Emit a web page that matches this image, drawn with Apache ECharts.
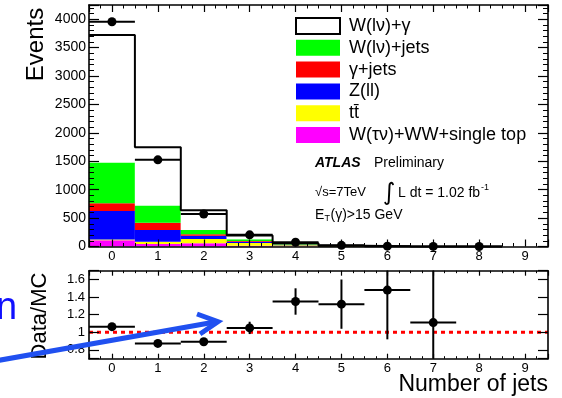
<!DOCTYPE html>
<html>
<head>
<meta charset="utf-8">
<script src="https://cdn.jsdelivr.net/npm/echarts@6/dist/echarts.min.js"></script>
<style>
  html, body { margin: 0; padding: 0; background: #fff; }
  #chart { width: 562px; height: 398px; }
</style>
</head>
<body>
<div id="chart"></div>
<script>
// Jet multiplicity bins
const categories = ['0', '1', '2', '3', '4', '5', '6', '7', '8', '9'];

// Stacked MC expectations per bin (events), bottom of stack first
const wTauWWTop = [110, 45, 55, 15, 5, 2, 0.8, 0.4, 0.2, 0.1];
const ttbar     = [15, 40, 75, 45, 18, 5, 1.5, 0.6, 0.3, 0.1];
const zll       = [500, 205, 60, 25, 6, 1.5, 0.4, 0.1, 0.05, 0];
const gammaJets = [135, 128, 25, 12, 4, 1, 0.3, 0.1, 0, 0];
const wJets     = [720, 302, 75, 30, 10, 2.5, 0.8, 0.3, 0.1, 0];
const wGamma    = [2240, 1025, 350, 68, 12, 3, 0.5, 0.3, 0.15, 0];

// Observed data (events) per bin
const dataCounts = [3955, 1525, 572, 205, 75, 20, 6, 2, 0];

// Data / MC ratio and its uncertainty
const ratioValues = [1.064, 0.874, 0.893, 1.05, 1.35, 1.32, 1.48, 1.11];
const ratioErrors = [0.02, 0.02, 0.03, 0.07, 0.15, 0.28, 0.56, 0.9];

// Axis tick labels
const yTickStep = 500;
const ratioTickStep = 0.2;

const FONT = 'Liberation Sans, Arial, Helvetica, sans-serif';

const stackDefs = [
  { name: 'W(τν)+WW+single top', values: wTauWWTop, color: '#ff00ff' },
  { name: 'tt̄',                  values: ttbar,     color: '#ffff00' },
  { name: 'Z(ll)',               values: zll,       color: '#0000ff' },
  { name: 'γ+jets',              values: gammaJets, color: '#ff0000' },
  { name: 'W(lν)+jets',          values: wJets,     color: '#00ff00' },
  { name: 'W(lν)+γ',             values: wGamma,    color: '#ffffff' }
];

// Total MC per bin and its step outline
const totals = categories.map((_, i) => stackDefs.reduce((s, d) => s + d.values[i], 0));
const outline = [];
let lastBin = -1;
totals.forEach((t, i) => {
  if (wGamma[i] > 0) {
    outline.push([i - 0.5, t], [i + 0.5, t]);
    lastBin = i;
  }
});
outline.push([lastBin + 0.5, 0]);

const chart = echarts.init(document.getElementById('chart'), null, { renderer: 'canvas' });

const axisLine = { show: true, onZero: false, lineStyle: { color: '#000', width: 1.6 } };

function xValueAxis(gridIndex, position, showLabels, tickLen, minorLen, labelSize) {
  return {
    type: 'value', gridIndex, position, min: -0.5, max: 9.5, splitNumber: 10,
    z: 10,
    axisLine,
    axisTick: { show: true, inside: true, length: tickLen, lineStyle: { color: '#000', width: 1.2 } },
    minorTick: { show: minorLen > 0, splitNumber: 4, length: minorLen, lineStyle: { color: '#000', width: 1 } },
    splitLine: { show: false },
    axisLabel: {
      show: showLabels, margin: 3, color: '#000', fontSize: labelSize, fontFamily: FONT,
      formatter: v => (Math.abs(v - Math.round(v)) < 1e-6 ? String(Math.round(v)) : '')
    }
  };
}

function eventsAxis(position, showLabels) {
  return {
    type: 'value', gridIndex: 0, position, min: 0, max: 4250, interval: yTickStep,
    z: 10,
    axisLine,
    axisTick: { show: true, inside: true, length: 10, lineStyle: { color: '#000', width: 1.2 } },
    minorTick: { show: true, splitNumber: 5, length: 5, lineStyle: { color: '#000', width: 1 } },
    splitLine: { show: false },
    axisLabel: {
      show: showLabels, margin: 3, color: '#000', fontSize: 14, fontFamily: FONT,
      formatter: v => (v % yTickStep === 0 ? String(v) : '')
    }
  };
}

function ratioAxis(position, showLabels) {
  return {
    type: 'value', gridIndex: 1, position, min: 0.7, max: 1.7, splitNumber: 5,
    z: 10,
    axisLine,
    axisTick: { show: true, inside: true, length: 10, lineStyle: { color: '#000', width: 1.2 } },
    splitLine: { show: false },
    axisLabel: {
      show: showLabels, margin: 4, color: '#000', fontSize: 13, fontFamily: FONT,
      formatter: v => {
        const k = v / ratioTickStep;
        return Math.abs(k - Math.round(k)) < 1e-6 ? String(+v.toFixed(2)) : '';
      }
    }
  };
}

// Data marker: full-bin horizontal bar plus dot, optional vertical error
function markerRenderer(errors) {
  return function (params, api) {
    const i = params.dataIndex;
    const x = api.value(0), y = api.value(1);
    const cs = params.coordSys;
    const l = api.coord([x - 0.5, y]);
    const r = api.coord([x + 0.5, y]);
    const c = api.coord([x, y]);
    const children = [];
    if (errors) {
      const e = errors[i];
      const hi = api.coord([x, y + e]);
      const lo = api.coord([x, y - e]);
      const y1 = Math.max(hi[1], cs.y);
      const y2 = Math.min(lo[1], cs.y + cs.height);
      children.push({ type: 'line', shape: { x1: c[0], y1, x2: c[0], y2 }, style: { stroke: '#000', lineWidth: 2 } });
    }
    children.push({ type: 'line', shape: { x1: l[0], y1: l[1], x2: r[0], y2: r[1] }, style: { stroke: '#000', lineWidth: 2 } });
    children.push({ type: 'circle', shape: { cx: c[0], cy: c[1], r: 4.5 }, style: { fill: '#000' } });
    return { type: 'group', children };
  };
}

const barSeries = stackDefs.map(d => ({
  name: d.name,
  type: 'bar',
  xAxisIndex: 0,
  yAxisIndex: 0,
  stack: 'mc',
  barWidth: '100%',
  barCategoryGap: '0%',
  itemStyle: { color: d.color },
  emphasis: { disabled: true },
  data: d.values,
  z: 2
}));

const option = {
  animation: false,
  backgroundColor: '#fff',
  grid: [
    { left: 89, top: 5, width: 459, height: 241.5 },
    { left: 89, top: 270.7, width: 459, height: 88 }
  ],
  legend: {
    orient: 'vertical',
    left: 295,
    top: 17,
    padding: 0,
    itemWidth: 44,
    itemHeight: 16,
    itemGap: 3.8,
    icon: 'rect',
    selectedMode: false,
    textStyle: { fontSize: 18, fontFamily: FONT, color: '#000', lineHeight: 16, padding: [0, 0, 0, 4] },
    data: [
      { name: 'W(lν)+γ', itemStyle: { color: '#fff', borderColor: '#000', borderWidth: 2 } },
      'W(lν)+jets', 'γ+jets', 'Z(ll)', 'tt̄', 'W(τν)+WW+single top'
    ]
  },
  xAxis: [
    { type: 'category', gridIndex: 0, data: categories, show: false, boundaryGap: true },
    xValueAxis(0, 'bottom', true, 7, 3.5, 13),
    xValueAxis(0, 'top', false, 7, 3.5, 13),
    xValueAxis(1, 'bottom', true, 5, 2.5, 13),
    xValueAxis(1, 'top', false, 5, 2.5, 13)
  ],
  yAxis: [
    eventsAxis('left', true),
    eventsAxis('right', false),
    ratioAxis('left', true),
    ratioAxis('right', false)
  ],
  series: [
    ...barSeries,
    {
      name: 'MC total',
      type: 'line',
      xAxisIndex: 1,
      yAxisIndex: 0,
      data: outline,
      symbol: 'none',
      lineStyle: { color: '#000', width: 2 },
      z: 4
    },
    {
      name: 'Data',
      type: 'custom',
      xAxisIndex: 1,
      yAxisIndex: 0,
      data: dataCounts.map((v, i) => [i, v]),
      renderItem: markerRenderer(null),
      z: 6
    },
    {
      name: 'Unity',
      type: 'line',
      xAxisIndex: 3,
      yAxisIndex: 2,
      data: [[-0.5, 1], [9.5, 1]],
      symbol: 'none',
      lineStyle: { color: '#ff0000', width: 3, type: [4, 4] },
      z: 3
    },
    {
      name: 'Data/MC',
      type: 'custom',
      xAxisIndex: 3,
      yAxisIndex: 2,
      data: ratioValues.map((v, i) => [i, v]),
      renderItem: markerRenderer(ratioErrors),
      z: 6
    }
  ],
  graphic: [
    { type: 'text', x: 36, y: 44.5, rotation: Math.PI / 2,
      style: { text: 'Events', fontSize: 24, fontFamily: FONT, fill: '#000', align: 'center', verticalAlign: 'middle' } },
    { type: 'text', x: 40, y: 316, rotation: Math.PI / 2,
      style: { text: 'Data/MC', fontSize: 22, fontFamily: FONT, fill: '#000', align: 'center', verticalAlign: 'middle' } },
    { type: 'text', x: 548, y: 385,
      style: { text: 'Number of jets', fontSize: 23, fontFamily: FONT, fill: '#000', align: 'right', verticalAlign: 'middle' } },
    { type: 'text', x: 315, y: 163,
      style: { text: 'ATLAS', fontSize: 14, fontWeight: 'bold', fontStyle: 'italic', fontFamily: FONT, fill: '#000', verticalAlign: 'middle' } },
    { type: 'text', x: 374, y: 163,
      style: { text: 'Preliminary', fontSize: 14, fontFamily: FONT, fill: '#000', verticalAlign: 'middle' } },
    { type: 'text', x: 315, y: 192,
      style: { text: '√s=7TeV', fontSize: 13, fontFamily: FONT, fill: '#000', verticalAlign: 'middle' } },
    { type: 'text', x: 383, y: 194,
      style: { text: '∫', fontSize: 24, fontFamily: 'DejaVu Sans', fill: '#000', verticalAlign: 'middle' } },
    { type: 'text', x: 398, y: 193,
      style: { text: 'L dt = 1.02 fb', fontSize: 14, fontFamily: FONT, fill: '#000', verticalAlign: 'middle' } },
    { type: 'text', x: 481, y: 188,
      style: { text: '-1', fontSize: 9, fontFamily: FONT, fill: '#000', verticalAlign: 'middle' } },
    { type: 'text', x: 315, y: 215,
      style: { text: 'E', fontSize: 14, fontFamily: FONT, fill: '#000', verticalAlign: 'middle' } },
    { type: 'text', x: 324.5, y: 219,
      style: { text: 'T', fontSize: 9, fontFamily: FONT, fill: '#000', verticalAlign: 'middle' } },
    { type: 'text', x: 330.5, y: 215,
      style: { text: '(γ)>15 GeV', fontSize: 14, fontFamily: FONT, fill: '#000', verticalAlign: 'middle' } },
    // blue annotation overlay
    { type: 'text', x: -4, y: 328, z: 100,
      style: { text: 'n', fontSize: 38, fontFamily: FONT, fill: '#1010ff', verticalAlign: 'bottom' } },
    { type: 'line', z: 100,
      shape: { x1: -5, y1: 361, x2: 215, y2: 322 },
      style: { stroke: '#2050f0', lineWidth: 5 } },
    { type: 'polyline', z: 100,
      shape: { points: [[197, 314], [218, 321.7], [200, 334]] },
      style: { stroke: '#2050f0', lineWidth: 5, fill: null, lineJoin: 'miter' } }
  ]
};

chart.setOption(option);
</script>
</body>
</html>
